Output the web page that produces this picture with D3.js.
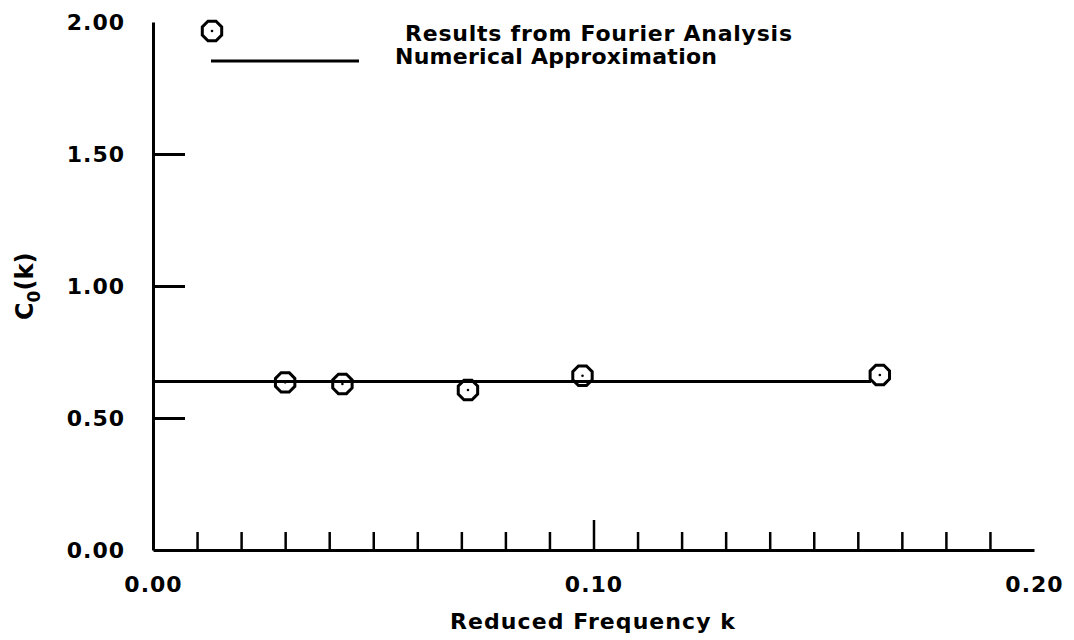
<!DOCTYPE html>
<html>
<head>
<meta charset="utf-8">
<script src="https://cdn.jsdelivr.net/npm/d3@7"></script>
<style>
  body { margin: 0; background: #fff; }
  svg { display: block; }
  text { font-family: "DejaVu Sans", sans-serif; font-weight: bold; fill: #000; }
  .axis path, .axis line { stroke: #000; }
</style>
</head>
<body>
<div id="chart"></div>
<script>
// Fourier analysis results
var kValues  = [0.030, 0.043, 0.0715, 0.0975, 0.165];
var c0Values = [0.635, 0.629, 0.606, 0.660, 0.663];

// numerical approximation (constant)
var approxK  = [0.0, 0.163];
var approxC0 = [0.638, 0.638];

var xMinorTicks = d3.range(1, 20).filter(function (i) { return i !== 10; }).map(function (i) { return i / 100; });
var xMajorTicks = [0.10];
var xLabelTicks = [0.00, 0.10, 0.20];
var yTicks = [0.50, 1.00, 1.50];
var yLabelTicks = [0.00, 0.50, 1.00, 1.50, 2.00];

var legendLabels = ["Results from Fourier Analysis", "Numerical Approximation"];

var WIDTH = 1074, HEIGHT = 640;

var x = d3.scaleLinear().domain([0, 0.2]).range([153, 1034]);
var y = d3.scaleLinear().domain([0, 2]).range([550, 22]);

var svg = d3.select("#chart").append("svg")
    .attr("width", WIDTH)
    .attr("height", HEIGHT);

// x axis: baseline + inward ticks
svg.append("g").attr("class", "axis")
    .attr("transform", "translate(0," + y(0) + ")")
    .call(d3.axisBottom(x).tickValues(xMinorTicks).tickSizeInner(-18).tickSizeOuter(0).tickFormat(""))
    .call(function (g) {
        g.select(".domain").attr("stroke-width", 3);
        g.selectAll(".tick line").attr("stroke-width", 2.5);
    });

svg.append("g").attr("class", "axis")
    .attr("transform", "translate(0," + y(0) + ")")
    .call(d3.axisBottom(x).tickValues(xMajorTicks).tickSizeInner(-30).tickSizeOuter(0).tickFormat(""))
    .call(function (g) {
        g.select(".domain").remove();
        g.selectAll(".tick line").attr("stroke-width", 2.5);
    });

svg.append("g").attr("class", "axis")
    .attr("transform", "translate(0," + y(0) + ")")
    .call(d3.axisBottom(x).tickValues(xLabelTicks).tickSize(0).tickPadding(26).tickFormat(d3.format(".2f")))
    .call(function (g) {
        g.select(".domain").remove();
        g.selectAll("text").attr("font-size", 22).attr("letter-spacing", 1)
            .style("font-family", "DejaVu Sans").style("font-weight", "bold").attr("fill", "#000");
    });

// y axis
svg.append("g").attr("class", "axis")
    .attr("transform", "translate(" + x(0) + ",0)")
    .call(d3.axisLeft(y).tickValues(yTicks).tickSizeInner(-32).tickSizeOuter(0).tickFormat(""))
    .call(function (g) {
        g.select(".domain").attr("stroke-width", 3);
        g.selectAll(".tick line").attr("stroke-width", 3);
    });

svg.append("g").attr("class", "axis")
    .attr("transform", "translate(" + x(0) + ",0)")
    .call(d3.axisLeft(y).tickValues(yLabelTicks).tickSize(0).tickPadding(28).tickFormat(d3.format(".2f")))
    .call(function (g) {
        g.select(".domain").remove();
        g.selectAll("text").attr("font-size", 22).attr("letter-spacing", 1)
            .style("font-family", "DejaVu Sans").style("font-weight", "bold").attr("fill", "#000");
    });

// axis titles
svg.append("text")
    .attr("x", 450).attr("y", 629)
    .attr("font-size", 22)
    .attr("textLength", 285).attr("lengthAdjust", "spacing")
    .text("Reduced Frequency k");

var yTitle = svg.append("text")
    .attr("transform", "translate(33,320) rotate(-90)")
    .attr("font-size", 24);
yTitle.append("tspan").text("C");
yTitle.append("tspan").attr("dy", 7).attr("font-size", 17).text("0");
yTitle.append("tspan").attr("dy", -7).text("(k)");

// octagon marker with centre dot
var octagon = d3.lineRadial()
    .angle(function (d) { return d; })
    .radius(10.5)
    .curve(d3.curveLinearClosed);
var octAngles = d3.range(8).map(function (i) { return Math.PI / 8 + i * Math.PI / 4; });

function drawMarker(g) {
    g.append("path")
        .attr("d", octagon(octAngles))
        .attr("fill", "none")
        .attr("stroke", "#000")
        .attr("stroke-width", 3);
    g.append("circle").attr("r", 1.3).attr("fill", "#000");
}

// approximation line
var line = d3.line()
    .x(function (d) { return x(d[0]); })
    .y(function (d) { return y(d[1]); });

svg.append("path")
    .datum(d3.zip(approxK, approxC0))
    .attr("d", line)
    .attr("fill", "none")
    .attr("stroke", "#000")
    .attr("stroke-width", 3);

// points
svg.selectAll("g.pt")
    .data(d3.zip(kValues, c0Values))
    .enter().append("g")
    .attr("class", "pt")
    .attr("transform", function (d) { return "translate(" + x(d[0]) + "," + y(d[1]) + ")"; })
    .each(function () { drawMarker(d3.select(this)); });

// legend
var legend = svg.append("g").attr("class", "legend");
drawMarker(legend.append("g").attr("transform", "translate(212,31)"));
legend.append("line")
    .attr("x1", 211).attr("x2", 359)
    .attr("y1", 61).attr("y2", 61)
    .attr("stroke", "#000").attr("stroke-width", 3);
legend.append("text")
    .attr("x", 405).attr("y", 41)
    .attr("font-size", 22)
    .attr("textLength", 387).attr("lengthAdjust", "spacing")
    .text(legendLabels[0]);
legend.append("text")
    .attr("x", 395).attr("y", 64)
    .attr("font-size", 22)
    .attr("textLength", 322).attr("lengthAdjust", "spacing")
    .text(legendLabels[1]);
</script>
</body>
</html>
